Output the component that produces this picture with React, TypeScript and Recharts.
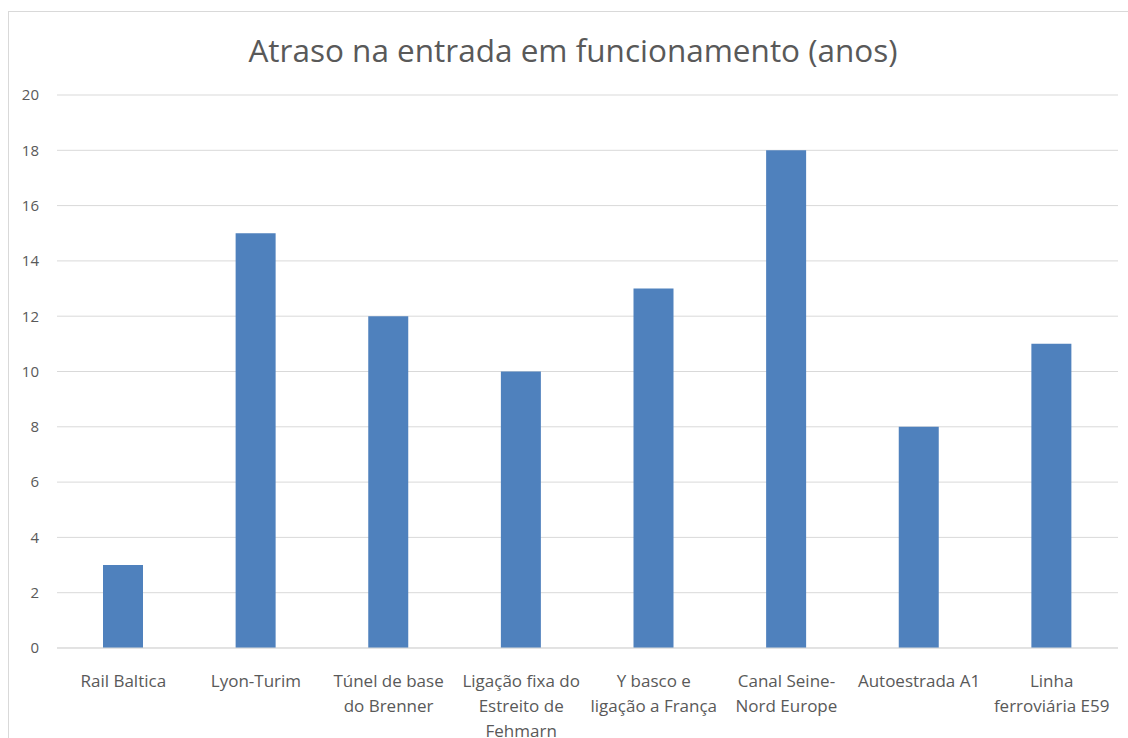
import { BarChart, Bar, XAxis, YAxis, CartesianGrid } from "recharts";

const projects = [
  "Rail Baltica",
  "Lyon-Turim",
  "Túnel de base\ndo Brenner",
  "Ligação fixa do\nEstreito de\nFehmarn",
  "Y basco e\nligação a França",
  "Canal Seine-\nNord Europe",
  "Autoestrada A1",
  "Linha\nferroviária E59",
];

const delayYears = [3, 15, 12, 10, 13, 18, 8, 11];

const yTicks = [0, 2, 4, 6, 8, 10, 12, 14, 16, 18, 20];

const chartTitle = "Atraso na entrada em funcionamento (anos)";

const data = projects.map((name, i) => ({ name, atraso: delayYears[i] }));

const FONT = "'Open Sans', sans-serif";
const TEXT = "#595959";

function CategoryTick({ x, y, payload }: any) {
  const lines = String(payload.value).split("\n");
  return (
    <text
      x={x}
      y={y + 31}
      textAnchor="middle"
      fill={TEXT}
      fontSize={17}
      fontFamily={FONT}
    >
      {lines.map((line, i) => (
        <tspan key={i} x={x} dy={i === 0 ? 0 : 25}>
          {line}
        </tspan>
      ))}
    </text>
  );
}

export default function App() {
  return (
    <div
      style={{
        position: "absolute",
        left: 8,
        top: 11,
        width: 1120,
        height: 727,
        borderTop: "1px solid #d9d9d9",
        borderLeft: "1px solid #d9d9d9",
        background: "#fff",
        overflow: "hidden",
      }}
    >
      <div
        style={{
          position: "absolute",
          left: 0,
          width: 1128,
          top: 18,
          textAlign: "center",
          fontFamily: FONT,
          fontSize: 31.5,
          color: TEXT,
          lineHeight: "40px",
        }}
      >
        {chartTitle}
      </div>
      <BarChart
        width={1119}
        height={726}
        data={data}
        margin={{ top: 83, right: 10, bottom: 0, left: 0 }}
        barSize={40}
      >
        <CartesianGrid vertical={false} stroke="#d9d9d9" />
        <XAxis
          dataKey="name"
          height={90}
          interval={0}
          tickLine={false}
          axisLine={{ stroke: "#d9d9d9" }}
          tick={<CategoryTick />}
        />
        <YAxis
          width={48}
          domain={[0, 20]}
          ticks={yTicks}
          axisLine={false}
          tickLine={false}
          tickMargin={12}
          tick={{ fill: TEXT, fontSize: 15, fontFamily: FONT }}
        />
        <Bar dataKey="atraso" fill="#4f81bd" isAnimationActive={false} />
      </BarChart>
    </div>
  );
}
